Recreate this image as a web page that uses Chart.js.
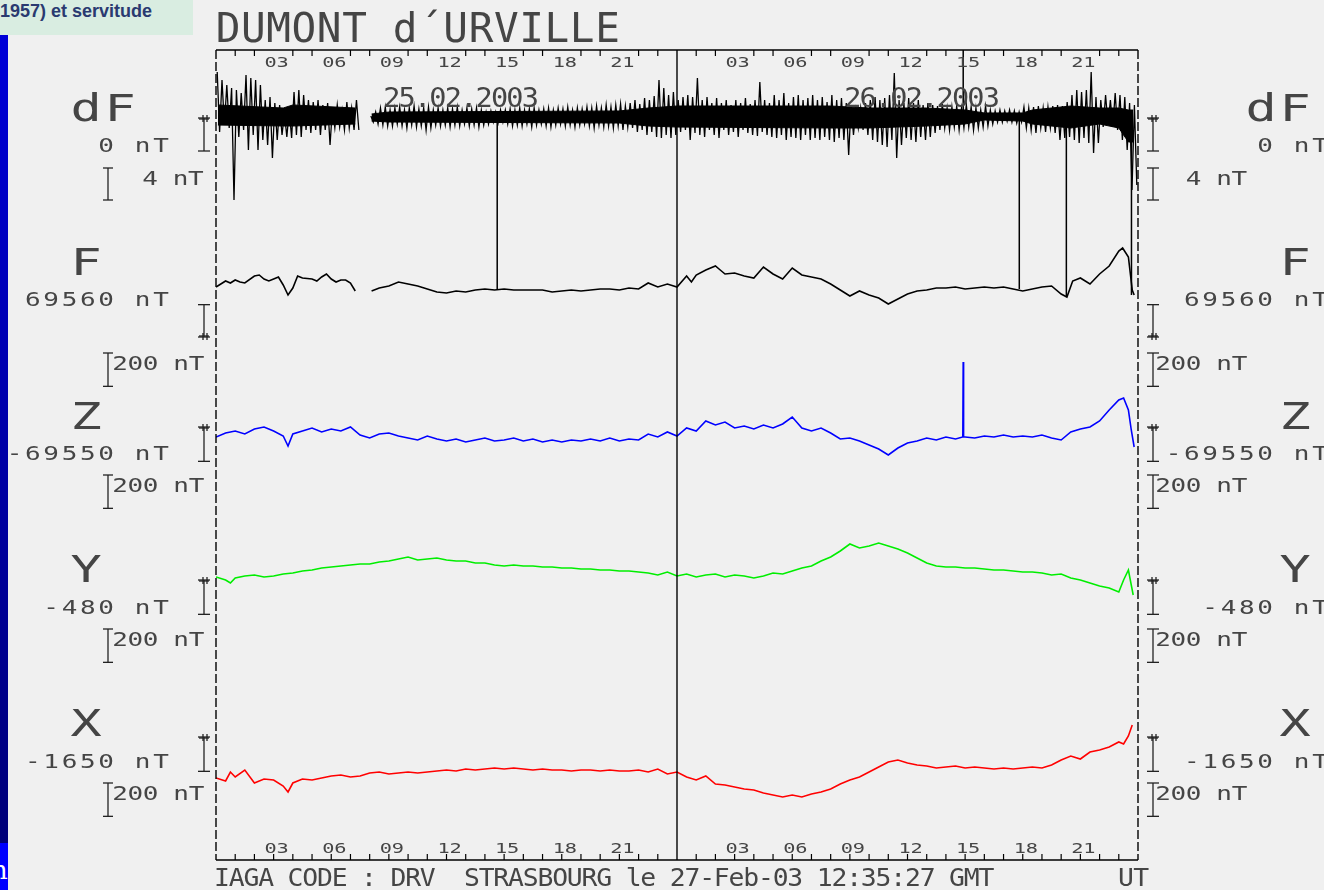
<!DOCTYPE html>
<html><head><meta charset="utf-8">
<script src="https://cdn.jsdelivr.net/npm/chart.js@4.4.1/dist/chart.umd.min.js"></script>
<style>
html,body{margin:0;padding:0;background:#f0f0f0;width:1324px;height:890px;overflow:hidden;}
#wrap{position:relative;width:1324px;height:890px;}
#c{position:absolute;left:0;top:0;}
#hdr{position:absolute;left:0;top:0;width:193px;height:35px;background:#d9ede1;font:bold 18px "Liberation Sans",Arial,sans-serif;color:#2a3a70;line-height:18px;padding-top:2px;box-sizing:border-box;white-space:nowrap;overflow:hidden;}
#bar{position:absolute;left:0;top:35px;width:8px;height:808px;background:linear-gradient(#0000d8,#000078);}
#bar2{position:absolute;left:0;top:843px;width:8px;height:47px;background:#0000ff;overflow:hidden;}
#bar2 span{position:absolute;left:-9px;top:12px;color:#fff;font:26px "DejaVu Serif",serif;}
</style></head>
<body><div id="wrap">
<canvas id="c" width="1324" height="890"></canvas>
<div id="hdr">1957) et servitude</div>
<div id="bar"></div>
<div id="bar2"><span>h</span></div>
</div>
<script>
// ---------- DATA ----------
const stationTitle = 'DUMONT d\u00B4URVILLE';
const dayLabels = ['25.02.2003', '26.02.2003'];
const hourLabels = ['03', '06', '09', '12', '15', '18', '21'];
const footerText = 'IAGA CODE : DRV  STRASBOURG le 27-Feb-03 12:35:27 GMT';
const unitText = 'UT';
const channelNames = ['dF', 'F', 'Z', 'Y', 'X'];
const baseValues = [0, 69560, -69550, -480, -1650];
const baseLabels = ['0 nT', '69560 nT', '-69550 nT', '-480 nT', '-1650 nT'];
const scaleValues = [4, 200, 200, 200, 200];
const scaleLabels = ['4 nT', '200 nT', '200 nT', '200 nT', '200 nT'];

// dF extremes, one sample per quarter hour over 48 h (nT)
const dFhi = [5.75,4.75,4.13,3.75,3.5,3.13,5.38,5,4.75,4.13,
 2.25,2.63,1.88,1.63,0.63,1,3.25,3.5,2.88,2.25,
 2,2.25,1.63,1.88,1.25,1.63,1,2,1.25,2.25,
 null,null,0.25,0.75,1.25,1.38,1,1.25,1.38,1,
 1.25,1.5,1.13,1.25,1.38,1,1.25,1,1.25,1.13,
 1.38,1,1.25,1.13,1.25,1,0.75,0.88,0.75,1,
 1,1.13,1,1.25,1,1.13,1.25,1,1.13,1.25,
 1,1.25,1.13,1.38,1,1.25,1.13,1.38,1.25,1.5,
 1.25,1.63,1.38,1.63,1.75,1.5,1.88,2.25,1.75,2.5,
 2.25,2.75,4.75,3.75,2.88,3.25,
 2.25,2.63,2.88,2.63,5,2.25,2.63,1.88,2.5,1.88,
 2.25,1.63,2.25,1.88,2.5,1.75,2.25,4.5,2.25,1.88,
 2.88,2.25,3.13,1.88,2.63,2.88,2.25,2.5,2.88,2.25,
 2.63,2,2.88,2.25,2.5,1.88,1.63,1,1.25,1.88,
 2.25,2.63,2.25,2.5,2.88,5.63,2.25,1.88,2.5,1.88,
 2.25,1.63,1.88,1.63,1.5,1.75,1.25,1.38,1.5,1.25,
 1.63,1.38,1.25,1,1.5,1,0.88,1,0.88,1,
 0.88,0.75,1.38,1.25,1.38,1.5,1.25,1.38,1.5,1.63,
 1.5,2,2.88,3.5,3.25,3.5,5.75,2.63,2.25,2.88,
 2.25,3.13,2.88,2.63,1.88,1.63];
const dFlo = [-1.75,-0.88,-1.25,-10.25,-2.38,-1.5,-4,-2.13,-4,-2.75,
 -3.38,-5,-2.75,-2.13,-2.38,-2.5,-2.13,-2.38,-1.5,-1.88,
 -1.5,-2.13,-1.5,-3.38,-1.25,-1.13,-1.5,-1.25,-1.5,-1.5,
 null,null,-0.5,-0.75,-0.88,-1,-1,-0.75,-1,-1.25,
 -0.88,-1.13,-1,-1.5,-1.25,-0.88,-1,-0.88,-1.13,-0.88,
 -1,-0.75,-1,-0.88,-1.13,-0.88,-0.75,-0.5,-0.63,-0.5,
 -0.75,-1,-0.88,-1,-0.75,-1.13,-0.88,-0.75,-1,-1.13,
 -0.88,-0.75,-1,-0.88,-1.13,-0.88,-0.75,-1,-1.25,-0.88,
 -1.13,-1,-1.25,-1,-1.5,-1.13,-1.25,-1.75,-1.5,-2.13,
 -1.75,-2.38,-2.5,-2.13,-2.5,-2.13,
 -1.75,-1.5,-2.75,-1.88,-2.13,-2.38,-1.5,-2.13,-2.5,-1.5,
 -2.13,-1.75,-2.38,-1.5,-1.88,-2.13,-2.25,-1.75,-2.13,-2.38,
 -2.5,-2.13,-2.75,-2.38,-2.5,-2.75,-2.13,-2.75,-2.5,-2.75,
 -2.38,-2.75,-3,-2.5,-2.75,-4.63,-2.13,-1.25,-1.5,-2.13,
 -2.75,-3,-3.38,-3.63,-2.75,-5,-3.38,-2.5,-2.75,-3,
 -2.38,-2.75,-2.38,-1.88,-1.5,-1.25,-1.5,-1.13,-1.5,-1.25,
 -1.13,-1.5,-1.25,-1.13,-1,-0.75,-0.5,-0.5,-0.38,-0.5,
 -0.63,-0.5,-1.25,-1.5,-1.88,-1.25,-1.75,-1.25,-1.88,-2.75,
 -2.5,-2.38,-2.75,-3.13,-2.5,-3.13,-4.38,-3.13,-1.13,-0.88,
 -1.13,-1.5,-2.75,-4,-9,-8.38];
// dense core of the dF trace (hour, upper nT, lower nT)
const dFcoreT  = [0.1, 3.5, 4, 7.25, 7.6, 8.1, 9, 21, 22.5, 24, 32, 34, 37, 39, 40, 42, 42.5, 44.5, 46, 47, 47.5, 47.75];
const dFcoreHi = [1.63, 1.25, 1.63, 1.25, null, 0.5, 0.75, 0.88, 1.25, 1.5, 1.5, 1.25, 1.25, 1, 0.63, 0.63, 1, 1.5, 1.25, 1.25, 1, 1];
const dFcoreLo = [-0.88, -1, -1, -0.75, null, -0.38, -0.5, -0.63, -1, -1.13, -1.25, -1.25, -1, -0.75, -0.25, -0.38, -0.75, -1.25, -0.75, -1.25, -3, -3];
// isolated dF spikes (hour, nT)
const dFspikeT = [14.64, 38.9, 41.82, 44.27, 47.66];
const dFspikeV = [-21.5, 8.5, -21.38, -22.38, -22.13];

// F (hour, nT)
const Ft = [0,0.25,0.5,0.75,1,1.25,1.5,2,2.25,2.5,2.75,3,3.25,3.5,3.75,4,4.25,4.5,5,5.25,5.5,5.75,6,6.25,6.5,6.75,7,7.25,7.7,
 8.1,8.5,9,9.5,10,10.5,11,11.5,12,12.5,13,13.5,14,14.5,15,15.5,16,16.5,17,17.5,18,18.5,19,19.5,20,20.5,21,21.5,22,22.5,23,23.5,24,
 24.5,24.75,25,25.5,26,26.25,26.5,27,27.5,28,28.5,29,29.5,30,30.5,31,31.5,32,32.5,33,33.5,34,34.5,35,35.5,36,36.5,37,37.5,38,38.5,39,39.5,
 40,40.5,41,41.5,42,42.5,43,43.5,44,44.3,44.6,45,45.5,46,46.5,47,47.2,47.5,47.7,47.8];
const Fv = [69860,69878,69896,69884,69902,69890,69884,69926,69932,69908,69896,69908,69920,69872,69812,69854,69926,69914,69908,69896,69920,69938,69908,69890,69902,69902,69884,69836,null,
 69836,69854,69866,69890,69878,69866,69848,69830,69824,69836,69830,69842,69848,69842,69848,69842,69842,69842,69842,69830,69836,69842,69836,69842,69848,69848,69842,69854,69848,69884,69860,69878,69860,
 69926,69890,69932,69962,69986,69962,69938,69944,69926,69914,69980,69938,69908,69974,69932,69920,69908,69878,69842,69806,69836,69812,69794,69758,69788,69818,69836,69842,69854,69854,69860,69848,69854,
 69860,69854,69860,69848,69836,69848,69860,69866,69818,69800,69896,69914,69878,69938,69986,70076,70094,70040,69842,69812];
// Z (hour, nT)
const Zt = [0,0.5,1,1.5,2,2.5,3,3.5,3.75,4,4.5,5,5.5,6,6.5,7,7.5,8,8.5,9,9.5,10,10.5,11,11.5,12,12.5,13,13.5,14,14.5,15,15.5,16,16.5,17,17.5,18,18.5,19,19.5,20,20.5,21,21.5,22,22.5,23,23.5,24,
 24.5,25,25.5,26,26.5,27,27.5,28,28.5,29,29.5,30,30.5,31,31.5,32,32.5,33,33.5,34,34.5,35,35.5,36,36.5,37,37.5,38,38.5,38.88,38.9,38.92,39,39.5,40,40.5,41,41.5,42,42.5,43,43.5,44,44.5,45,45.5,46,46.5,47,47.25,47.5,47.65,47.8];
const Zv = [-69610,-69586,-69574,-69592,-69562,-69550,-69574,-69604,-69664,-69592,-69574,-69556,-69580,-69562,-69574,-69550,-69598,-69616,-69592,-69586,-69604,-69616,-69628,-69604,-69622,-69634,-69622,-69640,-69628,-69616,-69634,-69628,-69616,-69634,-69622,-69640,-69628,-69640,-69628,-69634,-69622,-69634,-69616,-69634,-69622,-69628,-69592,-69610,-69580,-69604,
 -69556,-69574,-69514,-69538,-69520,-69556,-69544,-69562,-69538,-69556,-69532,-69490,-69556,-69574,-69556,-69586,-69622,-69616,-69634,-69658,-69682,-69718,-69676,-69646,-69634,-69616,-69628,-69610,-69622,-69610,-69160,-69610,-69610,-69616,-69604,-69610,-69598,-69610,-69604,-69610,-69598,-69616,-69628,-69580,-69562,-69550,-69514,-69448,-69388,-69376,-69448,-69568,-69670];
// Y (hour, nT)
const Yt = [0,0.5,0.75,1,1.5,2,2.5,3,3.5,4,4.5,5,5.5,6,6.5,7,7.5,8,8.5,9,9.5,10,10.5,11,11.5,12,12.5,13,13.5,14,14.5,15,15.5,16,16.5,17,17.5,18,18.5,19,19.5,20,20.5,21,21.5,22,22.5,23,23.5,24,
 24.5,25,25.5,26,26.5,27,27.5,28,28.5,29,29.5,30,30.5,31,31.5,32,32.5,33,33.5,34,34.5,35,35.5,36,36.5,37,37.5,38,38.5,39,39.5,40,40.5,41,41.5,42,42.5,43,43.5,44,44.5,45,45.5,46,46.5,47,47.25,47.5,47.75];
const Yv = [-462,-480,-498,-468,-456,-450,-462,-456,-444,-438,-426,-420,-408,-402,-396,-390,-384,-384,-372,-366,-354,-342,-360,-354,-348,-360,-366,-366,-378,-378,-390,-396,-390,-396,-396,-402,-402,-408,-408,-414,-414,-420,-420,-426,-426,-432,-438,-450,-432,-456,
 -444,-462,-450,-444,-462,-450,-456,-468,-456,-438,-444,-426,-408,-396,-366,-342,-306,-264,-288,-276,-258,-276,-294,-318,-348,-378,-396,-402,-402,-408,-408,-414,-420,-420,-426,-432,-432,-438,-450,-444,-468,-480,-498,-516,-528,-552,-480,-420,-570];
// X (hour, nT)
const Xt = [0,0.5,0.75,1,1.5,2,2.5,3,3.5,3.75,4,4.5,5,5.5,6,6.5,7,7.5,8,8.5,9,9.5,10,10.5,11,11.5,12,12.5,13,13.5,14,14.5,15,15.5,16,16.5,17,17.5,18,18.5,19,19.5,20,20.5,21,21.5,22,22.5,23,23.5,24,
 24.5,25,25.5,26,26.5,27,27.5,28,28.5,29,29.5,30,30.5,31,31.5,32,32.5,33,33.5,34,34.5,35,35.5,36,36.5,37,37.5,38,38.5,39,39.5,40,40.5,41,41.5,42,42.5,43,43.5,44,44.5,45,45.5,46,46.5,47,47.25,47.5,47.7];
const Xv = [-1896,-1914,-1860,-1890,-1848,-1926,-1902,-1908,-1944,-1980,-1926,-1902,-1908,-1896,-1884,-1878,-1890,-1884,-1866,-1860,-1872,-1866,-1860,-1866,-1860,-1854,-1848,-1854,-1842,-1848,-1842,-1836,-1842,-1836,-1842,-1848,-1842,-1848,-1848,-1854,-1848,-1848,-1854,-1848,-1854,-1854,-1848,-1860,-1842,-1872,-1860,
 -1890,-1908,-1884,-1932,-1938,-1950,-1962,-1968,-1986,-1998,-2010,-1998,-2010,-1992,-1980,-1962,-1932,-1908,-1890,-1860,-1830,-1800,-1788,-1806,-1818,-1824,-1836,-1830,-1824,-1836,-1830,-1836,-1842,-1836,-1842,-1836,-1830,-1836,-1818,-1788,-1764,-1782,-1740,-1728,-1710,-1680,-1692,-1644,-1578];

// ---------- LAYOUT (not data) ----------
const AREA = {left: 216, right: 1138, top: 50, bottom: 860};
const refPix = [118, 337, 427, 580, 737];        // pixel row of each channel's base value
const nTperPx = [0.125, 6, 6, 6, 6];
const axisIds = ['ydF', 'yF', 'yZ', 'yY', 'yX'];
const colors = ['#000000', '#000000', '#0000ff', '#00ee00', '#ff0000'];

const scales = {x: {type: 'linear', min: 0, max: 48, display: false, offset: false, bounds: 'data'}};
axisIds.forEach((id, k) => {
  scales[id] = {type: 'linear', display: false, bounds: 'data',
    min: baseValues[k] - (AREA.bottom - refPix[k]) * nTperPx[k],
    max: baseValues[k] + (refPix[k] - AREA.top) * nTperPx[k]};
});

const pts = (t, v) => t.map((x, i) => ({x: x, y: v[i]}));
// dF: zig-zag between the quarter-hour extremes, over a filled dense core
const dFzig = [];
dFhi.forEach((h, i) => {
  const t = i * 0.25 + 0.125;
  if (h === null) dFzig.push({x: t, y: null});
  else dFzig.push({x: t - 0.0625, y: h}, {x: t + 0.0625, y: dFlo[i]});
});
const dFspikes = [];
dFspikeT.forEach((t, i) => { dFspikes.push({x: t, y: 0}, {x: t, y: dFspikeV[i]}, {x: t, y: null}); });

const lineDS = (label, data, axis, color, w) => ({type: 'line', label, data, yAxisID: axis, xAxisID: 'x',
  borderColor: color, borderWidth: w || 1.6, pointRadius: 0, tension: 0, spanGaps: false, fill: false});

// ---------- DECORATION ----------
function monoText(ctx, text, cx0, yc, cell, size, sx, color) {
  sx = sx || 1;
  ctx.save();
  ctx.scale(sx, 1);
  ctx.font = size + 'px "DejaVu Sans Mono", "Liberation Mono", monospace';
  const adv = ctx.measureText('0').width;
  ctx.letterSpacing = (cell / sx - adv) + 'px';
  ctx.fillStyle = color || '#454545';
  ctx.textAlign = 'left';
  ctx.textBaseline = 'alphabetic';
  ctx.fillText(text, cx0 / sx - adv / 2, yc + size * 0.729 / 2);
  ctx.restore();
}
function seg(ctx, x1, y1, x2, y2) { ctx.beginPath(); ctx.moveTo(x1, y1); ctx.lineTo(x2, y2); ctx.stroke(); }
function ibar(ctx, x, y1, y2, hw) { seg(ctx, x, y1, x, y2); seg(ctx, x - hw, y1, x + hw, y1); seg(ctx, x - hw, y2, x + hw, y2); }
function marker(ctx, x, y, down) {
  const s = down ? -1 : 1;
  seg(ctx, x - 3, y + s, x + 7, y + s);
  seg(ctx, x + 1, y - 3 * s, x + 1, y + 4 * s);
  seg(ctx, x + 5, y - 3 * s, x + 5, y + 4 * s);
}

const deco = {
  id: 'deco',
  afterDatasetsDraw(chart) {
    const ctx = chart.ctx, xs = chart.scales.x;
    const L = chart.chartArea.left, R = chart.chartArea.right, T = chart.chartArea.top, B = chart.chartArea.bottom;
    const xMid = xs.getPixelForValue(24);
    ctx.save();
    ctx.strokeStyle = '#000'; ctx.lineWidth = 1.4;
    seg(ctx, L, T, R, T); seg(ctx, L, B, R, B);
    seg(ctx, xMid, T, xMid, B);
    ctx.setLineDash([9, 3]);
    seg(ctx, L, T, L, B); seg(ctx, R, T, R, B);
    ctx.setLineDash([]);
    ctx.lineWidth = 1.2;
    for (let h = 1; h < 48; h++) {
      if (h === 24) continue;
      const px = xs.getPixelForValue(h);
      if (h % 3 !== 0) seg(ctx, px, T, px, T + 6);
      seg(ctx, px, B, px, B - 6);
    }
    for (let d = 0; d < 2; d++) {
      hourLabels.forEach((lab, j) => {
        const px = xs.getPixelForValue(d * 24 + (j + 1) * 3);
        monoText(ctx, lab, px - 3, T + 12, 12, 14, 1.45);
        monoText(ctx, lab, px - 3, B - 12, 12, 14, 1.45);
      });
      monoText(ctx, dayLabels[d], xs.getPixelForValue(d * 24 + 9.15), 98, 15.4, 26, 1.1);
    }
    ctx.strokeStyle = '#222'; ctx.lineWidth = 1.3;
    const bigY = [108, 262, 416, 569, 723];
    const baseY = [145, 299, 453, 607, 761];
    const scaleY = [178, 363, 485, 639, 793];
    channelNames.forEach((name, k) => {
      const ax = chart.scales[axisIds[k]];
      const yRef = ax.getPixelForValue(baseValues[k]);
      const len = Math.abs(yRef - ax.getPixelForValue(baseValues[k] + scaleValues[k]));
      monoText(ctx, name, 86, bigY[k], 34, 37, 1.4);
      monoText(ctx, baseLabels[k], 161 - (baseLabels[k].length - 1) * 18.3, baseY[k], 18.3, 20, 1.3);
      const down = (k === 1);
      const y1 = down ? yRef - len + 1 : yRef;
      ibar(ctx, 204, y1, y1 + (down ? len - 1 : len + 1), 6);
      marker(ctx, 202, down ? y1 + len - 1 : y1, down);
      const sTop = scaleY[k] - 10;
      ibar(ctx, 108, sTop, sTop + len, 5);
      monoText(ctx, scaleLabels[k], k === 0 ? 150 : 120, scaleY[k], 15.3, 20, 1.3);
      monoText(ctx, name, 1295 - (name.length - 1) * 34, bigY[k], 34, 37, 1.4);
      monoText(ctx, baseLabels[k], 1320 - (baseLabels[k].length - 1) * 18.3, baseY[k], 18.3, 20, 1.3);
      ibar(ctx, 1153, y1, y1 + (down ? len - 1 : len + 1), 6);
      marker(ctx, 1151, down ? y1 + len - 1 : y1, down);
      ibar(ctx, 1153, sTop, sTop + len, 6);
      monoText(ctx, scaleLabels[k], k === 0 ? 1193.5 : 1163, scaleY[k], 15.3, 20, 1.3);
    });
    monoText(ctx, stationTitle, 228, 27, 25.3, 41, 1.0);
    monoText(ctx, footerText, 222, 877, 14.7, 24, 1.1);
    monoText(ctx, unitText, 1126, 877, 15.2, 24, 1.1);
    ctx.restore();
  }
};

new Chart(document.getElementById('c'), {
  type: 'line',
  data: {datasets: [
    lineDS('dF core max', pts(dFcoreT, dFcoreHi), 'ydF', '#000', 1),
    Object.assign(lineDS('dF core min', pts(dFcoreT, dFcoreLo), 'ydF', '#000', 1), {fill: '-1', backgroundColor: '#000'}),
    lineDS('dF', dFzig, 'ydF', '#000', 1.3),
    lineDS('dF spikes', dFspikes, 'ydF', '#000', 1.5),
    lineDS('F', pts(Ft, Fv), 'yF', colors[1]),
    lineDS('Z', pts(Zt, Zv), 'yZ', colors[2]),
    lineDS('Y', pts(Yt, Yv), 'yY', colors[3]),
    lineDS('X', pts(Xt, Xv), 'yX', colors[4])
  ]},
  options: {
    responsive: false, animation: false, devicePixelRatio: 1,
    layout: {padding: {left: AREA.left, right: 1324 - AREA.right, top: AREA.top, bottom: 890 - AREA.bottom}},
    plugins: {legend: {display: false}, tooltip: {enabled: false}, filler: {propagate: false}},
    scales: scales
  },
  plugins: [deco]
});
</script>
</body></html>
